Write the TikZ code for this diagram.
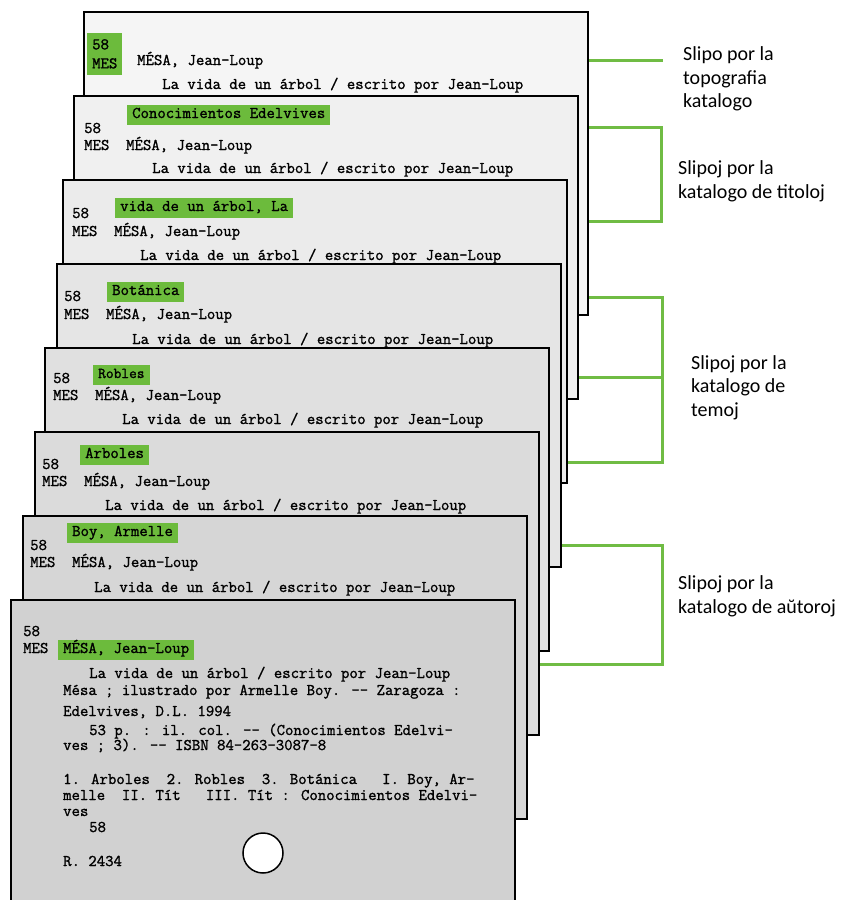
\documentclass[tikz,border=0pt]{standalone}
\usepackage{fontspec}
\newfontfamily\lblfont{Carlito}
\newfontfamily\cardfont{Latin Modern Mono}[FakeBold=1.3]
\usetikzlibrary{positioning}
\definecolor{hiGreen}{RGB}{108,187,60}
\definecolor{lnGreen}{RGB}{112,188,68}
\tikzstyle{cardNode} = [rectangle, minimum width=504pt, minimum height=303pt, draw=black, line width=2.5pt]
\tikzstyle{txtNode} = [anchor=west, inner sep=0pt, text height=9pt, text depth=3pt, font=\cardfont\bfseries\fontsize{16.3}{17}\selectfont]
\tikzstyle{hiNode} = [txtNode, fill=hiGreen, inner xsep=5pt, inner ysep=4pt]
\tikzstyle{hiBlock} = [fill=hiGreen, align=left, anchor=north west, inner xsep=5pt, inner ysep=6pt, font=\cardfont\bfseries\fontsize{16.3}{19}\selectfont]
\tikzstyle{lblNode} = [anchor=west, inner sep=0pt, align=left, font=\lblfont\fontsize{20}{23.5}\selectfont]
\tikzstyle{holeNode} = [circle, minimum size=40pt, draw=black, fill=white, line width=1.5pt]
\tikzstyle{lineG} = [draw=lnGreen, line width=3pt]

\begin{document}
\begin{tikzpicture}[x=1pt, y=-1pt, node distance=84pt]
        \useasboundingbox (0,0) rectangle (842,900);

        \node (card1) [cardNode, fill=black!4] at (336,163.5) {};
        \node (c1h) [hiBlock] at (87,33) {58\\MES};
        \node (c1a) [txtNode] at (137,62) {MÉSA, Jean-Loup};
        \node (c1t) [txtNode] at (162,86) {La vida de un árbol / escrito por Jean-Loup};

        \node (card2) [cardNode, fill=black!6, below of=card1, xshift=-10pt] {};
        \node (c2h) [hiNode] at (127,115) {Conocimientos Edelvives};
        \node (c2n) [txtNode] at (84,130) {58};
        \node (c2a) [txtNode] at (84,147) {MES\ \ MÉSA, Jean-Loup};
        \node (c2t) [txtNode] at (152,170) {La vida de un árbol / escrito por Jean-Loup};

        \node (card3) [cardNode, fill=black!8, below of=card2, xshift=-11pt] {};
        \node (c3h) [hiNode] at (115,208) {vida de un árbol, La};
        \node (c3n) [txtNode] at (72,215) {58};
        \node (c3a) [txtNode] at (72,233) {MES\ \ MÉSA, Jean-Loup};
        \node (c3t) [txtNode] at (140,257) {La vida de un árbol / escrito por Jean-Loup};

        \node (card4) [cardNode, fill=black!10, below of=card3, xshift=-6pt] {};
        \node (c4h) [hiNode] at (107,292) {Botánica};
        \node (c4n) [txtNode] at (64,298) {58};
        \node (c4a) [txtNode] at (64,316) {MES\ \ MÉSA, Jean-Loup};
        \node (c4t) [txtNode] at (132,341) {La vida de un árbol / escrito por Jean-Loup};

        \node (card5) [cardNode, fill=black!12, below of=card4, xshift=-12pt] {};
        \node (c5h) [hiNode, font=\cardfont\fontsize{15}{15}\selectfont] at (93,375) {Robles};
        \node (c5n) [txtNode] at (53,380) {58};
        \node (c5a) [txtNode] at (53,397) {MES\ \ MÉSA, Jean-Loup};
        \node (c5t) [txtNode] at (122,421) {La vida de un árbol / escrito por Jean-Loup};

        \node (card6) [cardNode, fill=black!14, below of=card5, xshift=-10pt] {};
        \node (c6h) [hiNode] at (80,455) {Arboles};
        \node (c6n) [txtNode] at (42,466) {58};
        \node (c6a) [txtNode] at (42,483) {MES\ \ MÉSA, Jean-Loup};
        \node (c6t) [txtNode] at (105,507) {La vida de un árbol / escrito por Jean-Loup};

        \node (card7) [cardNode, fill=black!16, below of=card6, xshift=-12pt] {};
        \node (c7h) [hiNode] at (67,533) {Boy, Armelle};
        \node (c7n) [txtNode] at (30,547) {58};
        \node (c7a) [txtNode] at (30,564) {MES\ \ MÉSA, Jean-Loup};
        \node (c7t) [txtNode] at (94,589) {La vida de un árbol / escrito por Jean-Loup};

        \node (card8) [cardNode, fill=black!18, below of=card7, xshift=-12pt] {};
        \node (c8n) [txtNode] at (23,633) {58};
        \node (c8m) [txtNode] at (23,650) {MES};
        \node (c8h) [hiNode] at (58,650) {MÉSA, Jean-Loup};
        \node (c8l1) [txtNode] at (89,675) {La vida de un árbol / escrito por Jean-Loup};
        \node (c8l2) [txtNode] at (63,692) {Mésa ; ilustrado por Armelle Boy. -{}- Zaragoza :};
        \node (c8l3) [txtNode] at (63,713) {Edelvives, D.L. 1994};
        \node (c8l4) [txtNode] at (89,732) {53 p. : il. col. -{}- (Conocimientos Edelvi-};
        \node (c8l5) [txtNode] at (63,747) {ves ; 3). -{}- ISBN 84-263-3087-8};
        \node (c8l6) [txtNode] at (63,781) {1. Arboles\ \ 2. Robles\ \ 3. Botánica\ \ \ I. Boy, Ar-};
        \node (c8l7) [txtNode] at (63,797) {melle\ \ II. Tít\ \ \ III. Tít : Conocimientos Edelvi-};
        \node (c8l8) [txtNode] at (63,813) {ves};
        \node (c8l9) [txtNode] at (89,829) {58};
        \node (c8r) [txtNode] at (63,863) {R. 2434};
        \node (hole) [holeNode] at (263,853) {};

        \node (lTopo) [lblNode] at (683,79) {Slipo por la\\topografia\\katalogo};
        \node (lTitol) [lblNode] at (678,181.5) {Slipoj por la\\katalogo de titoloj};
        \node (lTem) [lblNode] at (691,387.5) {Slipoj por la\\katalogo de\\temoj};
        \node (lAut) [lblNode] at (678,596.5) {Slipoj por la\\katalogo de aŭtoroj};

        \coordinate (b1) at (663,60);
        \coordinate (b2t) at (661,127);
        \coordinate (b2b) at (661,221);
        \coordinate (b3t) at (662,297);
        \coordinate (b3m) at (662,377);
        \coordinate (b3b) at (662,462);
        \coordinate (b4t) at (662,545);
        \coordinate (b4b) at (662,664);

        \draw [lineG] (card1.east |- b1) -- (b1);
        \draw [lineG] (card1.east |- b2t) -- (b2t) -- (b2b) -- (card1.east |- b2b);
        \draw [lineG] (card1.east |- b3t) -- (b3t) -- (b3b) -- (card3.east |- b3b);
        \draw [lineG] (card2.east |- b3m) -- (b3m);
        \draw [lineG] (card4.east |- b4t) -- (b4t) -- (b4b) -- (card6.east |- b4b);
    \end{tikzpicture}
\end{document}
